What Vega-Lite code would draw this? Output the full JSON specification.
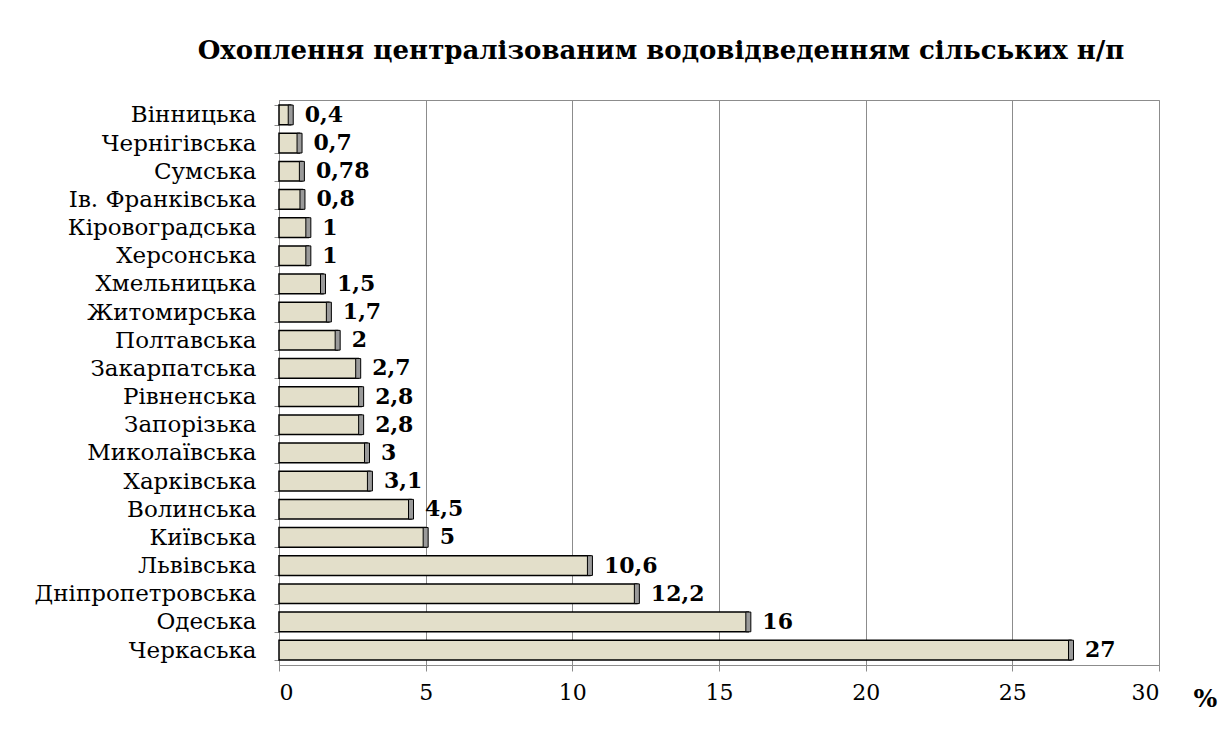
{
  "$schema": "https://vega.github.io/schema/vega-lite/v6.json",
  "autosize": "none",
  "width": 880,
  "height": 565,
  "padding": {"left": 279, "top": 100, "right": 63, "bottom": 88},
  "background": "white",
  "config": {
    "view": {"stroke": "#8c8c8c", "strokeWidth": 1},
    "font": "DejaVu Serif"
  },
  "title": {
    "text": "Охоплення централізованим водовідведенням сільських н/п",
    "font": "DejaVu Serif",
    "fontWeight": "bold",
    "fontSize": 26,
    "color": "black",
    "anchor": "middle",
    "dx": -58,
    "offset": 25
  },
  "data": {
    "values": [
      {"region": "Вінницька", "value": 0.4, "label": "0,4"},
      {"region": "Чернігівська", "value": 0.7, "label": "0,7"},
      {"region": "Сумська", "value": 0.78, "label": "0,78"},
      {"region": "Ів. Франківська", "value": 0.8, "label": "0,8"},
      {"region": "Кіровоградська", "value": 1, "label": "1"},
      {"region": "Херсонська", "value": 1, "label": "1"},
      {"region": "Хмельницька", "value": 1.5, "label": "1,5"},
      {"region": "Житомирська", "value": 1.7, "label": "1,7"},
      {"region": "Полтавська", "value": 2, "label": "2"},
      {"region": "Закарпатська", "value": 2.7, "label": "2,7"},
      {"region": "Рівненська", "value": 2.8, "label": "2,8"},
      {"region": "Запорізька", "value": 2.8, "label": "2,8"},
      {"region": "Миколаївська", "value": 3, "label": "3"},
      {"region": "Харківська", "value": 3.1, "label": "3,1"},
      {"region": "Волинська", "value": 4.5, "label": "4,5"},
      {"region": "Київська", "value": 5, "label": "5"},
      {"region": "Львівська", "value": 10.6, "label": "10,6"},
      {"region": "Дніпропетровська", "value": 12.2, "label": "12,2"},
      {"region": "Одеська", "value": 16, "label": "16"},
      {"region": "Черкаська", "value": 27, "label": "27"}
    ]
  },
  "encoding": {
    "y": {
      "field": "region",
      "type": "nominal",
      "sort": null,
      "scale": {"paddingInner": 0.3, "paddingOuter": 0.18},
      "axis": {
        "title": null,
        "labelFont": "DejaVu Serif",
        "labelFontSize": 23,
        "labelLimit": 400,
        "labelColor": "black",
        "labelPadding": 18,
        "domainColor": "#8c8c8c",
        "tickColor": "#8c8c8c",
        "tickBand": "extent",
        "tickSize": 5
      }
    }
  },
  "layer": [
    {
      "mark": {"type": "bar", "fill": "#e3dfca", "stroke": "black", "strokeWidth": 1.5},
      "encoding": {
        "x": {
          "field": "value",
          "type": "quantitative",
          "scale": {"domain": [0, 30], "nice": false},
          "axis": {
            "values": [0, 5, 10, 15, 20, 25, 30],
            "title": "%",
            "titleFont": "DejaVu Serif",
            "titleFontSize": 25,
            "titleFontWeight": "bold",
            "titleAlign": "left",
            "titleBaseline": "middle",
            "titleX": 914,
            "titleY": 33,
            "labelFont": "DejaVu Serif",
            "labelFontSize": 22,
            "labelColor": "black",
            "labelPadding": 11,
            "grid": true,
            "gridColor": "#8c8c8c",
            "domainColor": "#8c8c8c",
            "tickColor": "#8c8c8c",
            "tickSize": 6
          }
        }
      }
    },
    {
      "mark": {"type": "tick", "color": "#9a9a9a", "stroke": "black", "strokeWidth": 1, "thickness": 5, "bandSize": 20, "opacity": 1},
      "encoding": {
        "x": {"field": "value", "type": "quantitative"}
      }
    },
    {
      "mark": {"type": "text", "align": "left", "dx": 14, "font": "DejaVu Serif", "fontWeight": "bold", "fontSize": 22, "color": "black"},
      "encoding": {
        "x": {"field": "value", "type": "quantitative"},
        "text": {"field": "label"}
      }
    }
  ]
}
